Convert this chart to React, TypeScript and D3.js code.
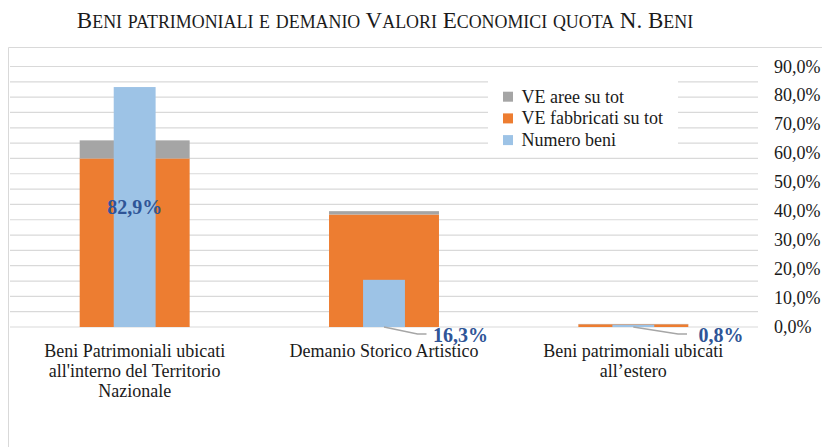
import React from "react";
import * as d3 from "d3";

const categories = [
  ["Beni Patrimoniali ubicati", "all'interno del Territorio", "Nazionale"],
  ["Demanio Storico Artistico"],
  ["Beni patrimoniali ubicati", "all’estero"],
];
const veAree = [0.059, 0.011, 0.001];
const veFabbricati = [0.55, 0.367, 0.009];
const numeroBeni = [0.829, 0.163, 0.008];
const primaryTicks = d3.range(0, 0.851, 0.05);
const secondaryTicks = d3.range(0, 0.901, 0.1);
const legendItems = [
  { label: "VE aree su tot", color: "#A5A5A5" },
  { label: "VE fabbricati su tot", color: "#ED7D31" },
  { label: "Numero beni", color: "#9DC3E6" },
];
const titleWords = ["Beni", "patrimoniali", "e", "demanio", "Valori", "Economici", "quota", "N.", "Beni"];

// layout
const W = 822, H = 447;
const plotL = 10, plotR = 758, plotT = 66.5, plotB = 327;
const wideFrac = 0.441, narrowFrac = 0.168;
// label offsets (layout only): null => centered inside bar
const labelOffsets: ({ dx: number; dy: number } | null)[] = [null, { dx: 76.5, dy: 7.5 }, { dx: 87.7, dy: 7.5 }];

const SERIF = "'Liberation Serif', 'Times New Roman', serif";

function Title() {
  const F = 23, S = 17.9;
  const spans: React.ReactNode[] = [];
  titleWords.forEach((w, i) => {
    if (i > 0) spans.push(<tspan key={"s" + i} fontSize={F}>{" "}</tspan>);
    let j = 0;
    while (j < w.length) {
      const ch = w[j];
      const isUpper = ch === ch.toUpperCase() && ch !== ch.toLowerCase();
      let k = j;
      while (k < w.length) {
        const c = w[k];
        const u = (c === c.toUpperCase() && c !== c.toLowerCase()) || c === ".";
        if (u !== (isUpper || ch === ".")) break;
        k++;
      }
      const part = w.slice(j, k);
      spans.push(
        <tspan key={i + "-" + j} fontSize={isUpper || ch === "." ? F : S}>
          {part.toUpperCase()}
        </tspan>
      );
      j = k;
    }
  });
  return (
    <text x={(plotL + plotR) / 2 + 1} y={28} textAnchor="middle" fontFamily={SERIF} fill="#1a1a1a">
      {spans}
    </text>
  );
}

export default function App() {
  const x = d3.scaleBand<number>().domain(d3.range(categories.length)).range([plotL, plotR]).padding(0);
  const yP = d3.scaleLinear().domain([0, 0.85]).range([plotB, plotT]);
  const yS = d3.scaleLinear().domain([0, 0.9]).range([plotB, plotT]);
  const bw = x.bandwidth();
  const fmt = (v: number) => (v * 100).toFixed(1).replace(".", ",") + "%";

  const stack = d3.stack<number>().keys(["fab", "aree"]).value((i, key) => (key === "fab" ? veFabbricati[i] : veAree[i]));
  const series = stack(d3.range(categories.length));
  const stackColors = ["#ED7D31", "#A5A5A5"];

  const legendX = 488, legendY = 76, legendW = 190, legendH = 75;

  return (
    <svg width={W} height={H} style={{ position: "absolute", left: 0, top: 0, background: "#fff" }}>
      <rect x={0} y={0} width={W} height={H} fill="#fff" />
      <Title />
      {/* frame */}
      <path d={`M8.5,${H} V47.5 H${W}`} fill="none" stroke="#d9d9d9" strokeWidth={1} />
      {/* gridlines */}
      {primaryTicks.map((t, i) => (
        <line key={i} x1={plotL} x2={plotR} y1={yP(t)} y2={yP(t)} stroke="#d9d9d9" strokeWidth={1.2} />
      ))}
      {/* stacked bars */}
      {series.map((s, si) =>
        s.map((d, i) => {
          const cx = (x(i) as number) + bw / 2;
          const w = bw * wideFrac;
          return (
            <rect
              key={si + "-" + i}
              x={cx - w / 2}
              y={yP(d[1])}
              width={w}
              height={Math.max(0, yP(d[0]) - yP(d[1]))}
              fill={stackColors[si]}
            />
          );
        })
      )}
      {/* Numero beni bars (secondary axis) */}
      {numeroBeni.map((v, i) => {
        const cx = (x(i) as number) + bw / 2;
        const w = bw * narrowFrac;
        return <rect key={"nb" + i} x={cx - w / 2} y={yS(v)} width={w} height={yS(0) - yS(v)} fill="#9DC3E6" />;
      })}
      {/* legend */}
      <rect x={legendX} y={legendY} width={legendW} height={legendH} fill="#fff" />
      {legendItems.map((it, i) => {
        const cy = 96.7 + i * 21.7;
        return (
          <g key={it.label}>
            <rect x={503} y={cy - 5} width={10} height={10} fill={it.color} />
            <text x={521.5} y={cy} dominantBaseline="central" fontFamily={SERIF} fontSize={18} fill="#1a1a1a">
              {it.label}
            </text>
          </g>
        );
      })}
      {/* leader lines + data labels */}
      {numeroBeni.map((v, i) => {
        const cx = (x(i) as number) + bw / 2;
        const off = labelOffsets[i];
        const label = fmt(v);
        if (!off) {
          return (
            <text key={"lb" + i} x={cx} y={(yS(v) + yS(0)) / 2} textAnchor="middle" dominantBaseline="central"
              fontFamily={SERIF} fontWeight="bold" fontSize={20} fill="#2F5597">
              {label}
            </text>
          );
        }
        const lx = cx + off.dx, ly = yS(0) + off.dy;
        const left = lx - 27;
        return (
          <g key={"lb" + i}>
            <polyline
              points={`${cx},${yS(0)} ${left - 16},${ly - 0.5} ${left - 7},${ly - 0.5}`}
              fill="none" stroke="#A6A6A6" strokeWidth={1.5}
            />
            <text x={lx} y={ly} textAnchor="middle" dominantBaseline="central"
              fontFamily={SERIF} fontWeight="bold" fontSize={20} fill="#2F5597">
              {label}
            </text>
          </g>
        );
      })}
      {/* secondary axis labels */}
      {secondaryTicks.map((t, i) => (
        <text key={"st" + i} x={774} y={yS(t)} dominantBaseline="central" fontFamily={SERIF} fontSize={18} fill="#1a1a1a">
          {fmt(t)}
        </text>
      ))}
      {/* category labels */}
      {categories.map((lines, i) => {
        const cx = (x(i) as number) + bw / 2;
        return (
          <text key={"c" + i} textAnchor="middle" fontFamily={SERIF} fontSize={18} fill="#1a1a1a">
            {lines.map((ln, j) => (
              <tspan key={j} x={cx} y={357 + j * 20}>
                {ln}
              </tspan>
            ))}
          </text>
        );
      })}
    </svg>
  );
}
